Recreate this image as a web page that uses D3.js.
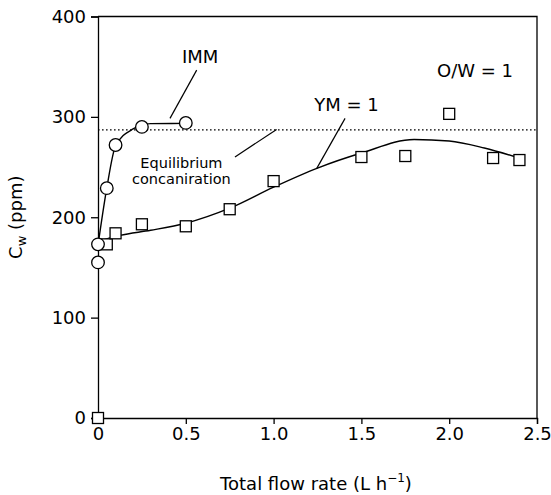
<!DOCTYPE html>
<html>
<head>
<script src="https://cdnjs.cloudflare.com/ajax/libs/d3/7.8.5/d3.min.js"></script>
<style>
  body { margin: 0; background: #fff; }
  svg text { font-family: "DejaVu Sans", "Liberation Sans", Arial, sans-serif; fill: #000; }
</style>
</head>
<body>
<div id="vis"></div>
<script type="text/javascript">

// measured points, IMM (circles)
var immX = [0, 0, 0.05, 0.1, 0.25, 0.5];
var immY = [155, 173, 229, 272, 290, 294];
// fitted IMM curve
var immFitX = [0, 0.05, 0.1, 0.2, 0.3, 0.5];
var immFitY = [172, 229, 271, 288, 293.3, 293.5];

// measured points, YM = 1 (squares)
var ymX = [0, 0.05, 0.1, 0.25, 0.5, 0.75, 1.0, 1.5, 1.75, 2.0, 2.25, 2.4];
var ymY = [0, 173, 184, 193, 191, 208, 236, 260, 261, 303, 259, 257];
// fitted YM curve
var ymFitX = [0, 0.125, 0.3, 0.5, 0.75, 1.0, 1.25, 1.5, 1.8, 2.0, 2.2, 2.4];
var ymFitY = [176, 182, 187, 194, 209, 230, 249, 264, 277.5, 276, 269, 259];

var equilibrium = 287;

var xTicks = [0, 0.5, 1.0, 1.5, 2.0, 2.5];
var xTickLabels = ["0", "0.5", "1.0", "1.5", "2.0", "2.5"];
var yTicks = [0, 100, 200, 300, 400];

var w = 551, h = 495;
var margin = {left: 98, right: 14, top: 16.5, bottom: 77};

const svg = d3.select("#vis")
    .append("svg")
    .attr("width", w)
    .attr("height", h)
    .attr("viewBox", [0, 0, w, h]);

var xScale = d3.scaleLinear().domain([0, 2.5]).range([margin.left, w - margin.right]);
var yScale = d3.scaleLinear().domain([0, 400]).range([h - margin.bottom, margin.top]);

// frame (top + right)
svg.append("path")
    .attr("d", `M${xScale(0)},${yScale(400)}H${xScale(2.5)}V${yScale(0)}`)
    .attr("fill", "none")
    .attr("stroke", "#000")
    .attr("stroke-width", 1.3);

var xAxis = svg.append("g")
    .attr("transform", `translate(0,${yScale(0)})`)
    .call(d3.axisBottom(xScale).tickValues(xTicks)
        .tickFormat((d, i) => xTickLabels[i]).tickSizeOuter(0).tickSize(6).tickPadding(3));
var yAxis = svg.append("g")
    .attr("transform", `translate(${xScale(0)},0)`)
    .call(d3.axisLeft(yScale).tickValues(yTicks).tickSizeOuter(0).tickSize(7).tickPadding(5));

[xAxis, yAxis].forEach(g => {
    g.select(".domain").attr("stroke", "#000").attr("stroke-width", 1.3);
    g.selectAll(".tick line").attr("stroke", "#000").attr("stroke-width", 1.3);
    g.selectAll(".tick text").attr("font-size", 18).attr("font-family", null);
});

// equilibrium line
svg.append("line")
    .attr("x1", xScale(0)).attr("x2", xScale(2.5))
    .attr("y1", yScale(equilibrium)).attr("y2", yScale(equilibrium))
    .attr("stroke", "#000")
    .attr("stroke-width", 1.4)
    .attr("stroke-dasharray", "1.6,2.4");

var line = d3.line()
    .x(d => xScale(d[0]))
    .y(d => yScale(d[1]))
    .curve(d3.curveMonotoneX);

svg.append("path")
    .datum(immFitX.map((x, i) => [x, immFitY[i]]))
    .attr("d", line)
    .attr("fill", "none").attr("stroke", "#000").attr("stroke-width", 1.4);

svg.append("path")
    .datum(ymFitX.map((x, i) => [x, ymFitY[i]]))
    .attr("d", line)
    .attr("fill", "none").attr("stroke", "#000").attr("stroke-width", 1.4);

// squares
svg.append("g").selectAll("rect")
    .data(ymX.map((x, i) => [x, ymY[i]]))
    .join("rect")
    .attr("x", d => xScale(d[0]) - 5.5)
    .attr("y", d => yScale(d[1]) - 5.5)
    .attr("width", 11).attr("height", 11)
    .attr("fill", "#fff").attr("stroke", "#000").attr("stroke-width", 1.3);

// circles
svg.append("g").selectAll("circle")
    .data(immX.map((x, i) => [x, immY[i]]))
    .join("circle")
    .attr("cx", d => xScale(d[0]))
    .attr("cy", d => yScale(d[1]))
    .attr("r", 6.3)
    .attr("fill", "#fff").attr("stroke", "#000").attr("stroke-width", 1.3);

// annotations
function leader(x1, y1, x2, y2) {
    svg.append("line")
        .attr("x1", xScale(x1)).attr("y1", yScale(y1))
        .attr("x2", xScale(x2)).attr("y2", yScale(y2))
        .attr("stroke", "#000").attr("stroke-width", 1.2);
}
leader(0.562, 346.6, 0.41, 298.5);
leader(1.407, 298.5, 1.245, 248.4);
leader(0.78, 260, 1.017, 287.5);

svg.append("text")
    .attr("x", xScale(0.478)).attr("y", yScale(360)).attr("dy", "0.36em")
    .attr("font-size", 18).text("IMM");
svg.append("text")
    .attr("x", xScale(1.415)).attr("y", yScale(312.7)).attr("dy", "0.36em")
    .attr("text-anchor", "middle").attr("font-size", 18).text("YM = 1");
svg.append("text")
    .attr("x", xScale(2.147)).attr("y", yScale(346.6)).attr("dy", "0.36em")
    .attr("text-anchor", "middle").attr("font-size", 18).text("O/W = 1");

var eq = svg.append("text")
    .attr("text-anchor", "middle").attr("font-size", 14.5);
eq.append("tspan").attr("x", xScale(0.475)).attr("y", yScale(254)).attr("dy", "0.36em").text("Equilibrium");
eq.append("tspan").attr("x", xScale(0.475)).attr("y", yScale(238)).attr("dy", "0.36em").text("concaniration");

// axis titles
var xt = svg.append("text")
    .attr("x", 316).attr("y", 490)
    .attr("text-anchor", "middle").attr("font-size", 18);
xt.append("tspan").text("Total flow rate (L h");
xt.append("tspan").attr("font-size", 12).attr("dy", -8).text("\u22121");
xt.append("tspan").attr("dy", 8).text(")");

var yt = svg.append("text")
    .attr("transform", `translate(22,${(yScale(0) + yScale(400)) / 2}) rotate(-90)`)
    .attr("text-anchor", "middle").attr("font-size", 18);
yt.append("tspan").text("C");
yt.append("tspan").attr("font-size", 13).attr("dy", 4).text("w");
yt.append("tspan").attr("dy", -4).text(" (ppm)");

</script>
</body>
</html>
